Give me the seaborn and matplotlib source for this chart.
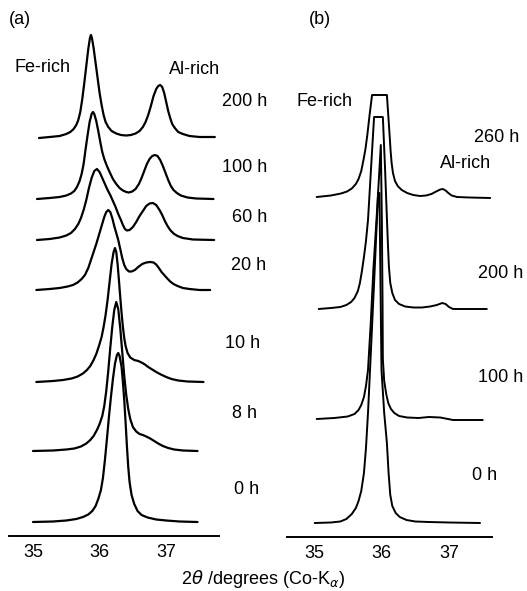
"""
plot.py
Profils XRD empilés (Fe-rich / Al-rich) — deux panneaux (a) et (b)
"""

import numpy as np
import pandas as pd
import matplotlib
matplotlib.use("Agg")
import matplotlib.pyplot as plt
from matplotlib.ticker import MultipleLocator
import seaborn as sns

# ---- données : (2theta, intensité au-dessus de la ligne de base)
A_200H = [(35.09, 0), (35.25, 1), (35.40, 2), (35.50, 4), (35.56, 6), (35.61, 9), (35.65, 13),
          (35.68, 18), (35.71, 26), (35.74, 39), (35.77, 55), (35.80, 72), (35.83, 89),
          (35.855, 100), (35.87, 103), (35.885, 100), (35.91, 90), (35.94, 75), (35.97, 60),
          (36.00, 45), (36.03, 33), (36.06, 23), (36.09, 16), (36.13, 11), (36.18, 7),
          (36.25, 4.5), (36.32, 3), (36.40, 2.5), (36.47, 3), (36.54, 4.5), (36.60, 7),
          (36.65, 11), (36.69, 16), (36.73, 23), (36.77, 32), (36.81, 42), (36.85, 49),
          (36.88, 52), (36.91, 53), (36.94, 51), (36.97, 45), (37.00, 36), (37.03, 27),
          (37.06, 20), (37.09, 14), (37.13, 10), (37.18, 6), (37.25, 4), (37.35, 2),
          (37.50, 1), (37.73, 1)]
A_100H = [(35.06, 0), (35.25, 1), (35.40, 2), (35.50, 3.5), (35.57, 5.5), (35.62, 8),
          (35.66, 12), (35.70, 18), (35.73, 25), (35.76, 35), (35.79, 50), (35.82, 64),
          (35.85, 77), (35.88, 85), (35.90, 87), (35.92, 85), (35.95, 78), (35.98, 68),
          (36.01, 57), (36.04, 47), (36.07, 40), (36.11, 33), (36.15, 27), (36.20, 20),
          (36.25, 15), (36.30, 11), (36.35, 8.5), (36.40, 7), (36.44, 6.5), (36.49, 7.5),
          (36.54, 10), (36.59, 15), (36.63, 21), (36.67, 28), (36.71, 35), (36.75, 40),
          (36.79, 43), (36.83, 44), (36.87, 43), (36.91, 39), (36.95, 33), (36.99, 26),
          (37.03, 19), (37.07, 13), (37.11, 9), (37.16, 6), (37.22, 3.5), (37.32, 1.5),
          (37.45, 0.5), (37.71, 0)]
A_60H = [(35.06, 0), (35.25, 1), (35.40, 2.5), (35.50, 4.5), (35.57, 7), (35.63, 11),
         (35.68, 16), (35.72, 22), (35.76, 30), (35.80, 40), (35.84, 52), (35.88, 62),
         (35.92, 69), (35.96, 71), (36.00, 68), (36.04, 62), (36.08, 56), (36.12, 50),
         (36.16, 45), (36.20, 39), (36.24, 33), (36.28, 26), (36.32, 20), (36.35, 15),
         (36.38, 11), (36.41, 9.5), (36.45, 10), (36.50, 13), (36.55, 18), (36.60, 24),
         (36.65, 29), (36.70, 34), (36.75, 36.5), (36.80, 37), (36.85, 35), (36.90, 30),
         (36.94, 25), (36.98, 19), (37.02, 14), (37.06, 10), (37.11, 6.5), (37.17, 4),
         (37.25, 2), (37.40, 0.5), (37.72, 0)]
A_20H = [(35.05, 0), (35.25, 1), (35.40, 2), (35.52, 3.5), (35.60, 5), (35.67, 7.5),
         (35.73, 11), (35.78, 15), (35.83, 22), (35.87, 30), (35.91, 38), (35.95, 46),
         (35.99, 55), (36.03, 64), (36.07, 73), (36.10, 78), (36.13, 80), (36.16, 78),
         (36.19, 72), (36.22, 64), (36.25, 57), (36.28, 50), (36.31, 41), (36.34, 32),
         (36.37, 25), (36.40, 21), (36.44, 18.5), (36.48, 18.5), (36.53, 20), (36.58, 23),
         (36.64, 26), (36.70, 27.5), (36.76, 28), (36.81, 27.5), (36.85, 25.5), (36.89, 22),
         (36.93, 18), (36.97, 15), (37.01, 12), (37.06, 8.5), (37.11, 6), (37.17, 4),
         (37.25, 2), (37.35, 1), (37.50, 0), (37.66, 0)]
A_10H = [(35.05, 0), (35.30, 1), (35.45, 2), (35.58, 3.5), (35.67, 5.5), (35.75, 8.5),
         (35.81, 12), (35.86, 16), (35.91, 22), (35.95, 28), (35.99, 36), (36.03, 45),
         (36.06, 55), (36.09, 67), (36.12, 82), (36.15, 100), (36.18, 118), (36.21, 130),
         (36.23, 134), (36.25, 130), (36.27, 118), (36.29, 102), (36.31, 85), (36.33, 69),
         (36.35, 55), (36.37, 44), (36.39, 36), (36.42, 29), (36.46, 24.5), (36.52, 22),
         (36.58, 21), (36.63, 19.5), (36.68, 17.5), (36.73, 15), (36.79, 12.5), (36.85, 10),
         (36.92, 7.5), (37.00, 5), (37.08, 3), (37.18, 1.5), (37.32, 0.5), (37.56, 0)]
A_8H = [(35.00, 0), (35.30, 0.5), (35.50, 1.5), (35.62, 2.5), (35.72, 4.5), (35.80, 7.5),
        (35.86, 11), (35.91, 15), (35.96, 21), (36.00, 27), (36.04, 35), (36.07, 45),
        (36.10, 60), (36.13, 80), (36.16, 103), (36.19, 124), (36.22, 141), (36.25, 149),
        (36.28, 142), (36.31, 123), (36.34, 99), (36.37, 75), (36.40, 56), (36.43, 42),
        (36.46, 32), (36.50, 24), (36.55, 19.5), (36.60, 17), (36.65, 16), (36.70, 14.5),
        (36.76, 12.5), (36.82, 10), (36.88, 7.5), (36.95, 5), (37.03, 3), (37.12, 1.5),
        (37.25, 0.5), (37.47, 0)]
A_0H = [(35.00, 0), (35.30, 0.5), (35.50, 1.5), (35.65, 3), (35.75, 5), (35.83, 7.5),
        (35.89, 11), (35.94, 16), (35.98, 23), (36.02, 32), (36.05, 44), (36.08, 62),
        (36.11, 83), (36.14, 105), (36.17, 125), (36.20, 143), (36.23, 158), (36.26, 167),
        (36.28, 169), (36.30, 166), (36.33, 155), (36.35, 140), (36.37, 122), (36.39, 100),
        (36.41, 76), (36.43, 55), (36.45, 40), (36.48, 27), (36.52, 18), (36.57, 11),
        (36.63, 7), (36.72, 4.5), (36.85, 2.5), (37.00, 1.5), (37.20, 0.5), (37.47, 0)]

B_260H = [(35.04, 0), (35.25, 1.5), (35.40, 3.5), (35.49, 5.5), (35.56, 8.5), (35.62, 13),
          (35.66, 18), (35.70, 26), (35.73, 36), (35.76, 47), (35.79, 62), (35.82, 80),
          (35.86, 102), (36.08, 102), (36.10, 82), (36.12, 62), (36.135, 46), (36.15, 34),
          (36.17, 24), (36.20, 16), (36.24, 11), (36.30, 7), (36.38, 4), (36.47, 2),
          (36.57, 1), (36.66, 1.5), (36.74, 3), (36.81, 5.5), (36.87, 7.5), (36.91, 8),
          (36.95, 6.5), (36.99, 4), (37.04, 1.5), (37.12, 0), (37.30, -0.5), (37.61, -1)]
B_200H = [(35.07, 0), (35.25, 1), (35.39, 2), (35.48, 4), (35.55, 7), (35.60, 11),
          (35.65, 18), (35.68, 26), (35.71, 38), (35.74, 52), (35.77, 68), (35.80, 89),
          (35.84, 135), (35.89, 192), (36.02, 192), (36.05, 145), (36.075, 100), (36.095, 65),
          (36.11, 42), (36.13, 26), (36.16, 16), (36.20, 9), (36.26, 5), (36.35, 2.5),
          (36.47, 1.5), (36.60, 1.5), (36.72, 2.5), (36.82, 4), (36.90, 6), (36.95, 5),
          (37.00, 2), (37.06, 0), (37.25, 0), (37.56, 0)]
B_100H = [(35.04, 0), (35.30, 1), (35.50, 2.5), (35.60, 5), (35.66, 9), (35.70, 14),
          (35.74, 22), (35.77, 33), (35.80, 49), (35.84, 95), (35.88, 150), (35.94, 215),
          (35.99, 274), (36.005, 200), (36.015, 120), (36.02, 60), (36.04, 38), (36.07, 25),
          (36.10, 16), (36.14, 10), (36.19, 6), (36.26, 3), (36.38, 1.5), (36.55, 1),
          (36.70, 2), (36.87, 1.5), (37.06, -1), (37.25, -1), (37.50, -1)]
B_0H = [(35.01, 0), (35.25, 0.5), (35.39, 1.5), (35.48, 4), (35.56, 9), (35.62, 15),
        (35.66, 22), (35.70, 32), (35.74, 50), (35.77, 75), (35.80, 110), (35.83, 153),
        (35.89, 240), (35.95, 330), (35.97, 330), (35.985, 240), (36.00, 153), (36.04, 110),
        (36.08, 80), (36.105, 50), (36.13, 28), (36.16, 17), (36.21, 10), (36.27, 6),
        (36.37, 3), (36.50, 1.5), (36.70, 1), (37.00, 0.5), (37.46, 0)]

CURVES_A  = [A_200H, A_100H, A_60H, A_20H, A_10H, A_8H, A_0H]
LABELS_A  = ["200 h", "100 h", "60 h", "20 h", "10 h", "8 h", "0 h"]
OFFSETS_A = [398, 337, 296, 246, 154, 85, 14]

CURVES_B  = [B_260H, B_200H, B_100H, B_0H]
LABELS_B  = ["260 h", "200 h", "100 h", "0 h"]
OFFSETS_B = [340, 228, 118, 14]

XTICKS = [35, 36, 37]

W, H = 527, 591
FONT = ["Liberation Sans", "DejaVu Sans"]


def to_frame(curves, labels, offsets):
    rows = []
    for pts, lab, off in zip(curves, labels, offsets):
        for x, h in pts:
            rows.append({"two_theta": x, "intensity": h + off, "time": lab})
    return pd.DataFrame(rows)


def style_axis(ax, xlim, ylim):
    ax.set_xlim(*xlim)
    ax.set_ylim(*ylim)
    for s in ("left", "right", "top"):
        ax.spines[s].set_visible(False)
    ax.spines["bottom"].set_linewidth(1.4)
    ax.spines["bottom"].set_color("black")
    ax.set_yticks([])
    ax.set_xticks(XTICKS)
    ax.set_xticklabels([str(t) for t in XTICKS], fontsize=13, family=FONT)
    ax.xaxis.set_minor_locator(MultipleLocator(0.2))
    ax.tick_params(axis="x", which="major", direction="in", length=5, width=1.3,
                   pad=6, colors="black")
    ax.tick_params(axis="x", which="minor", direction="in", length=2, width=0.8,
                   colors="black")
    ax.set_xlabel("")
    ax.set_ylabel("")
    ax.patch.set_alpha(0)


def main():
    sns.set_style("white")
    plt.rcParams["font.family"] = FONT
    plt.rcParams["mathtext.fontset"] = "dejavusans"
    plt.rcParams["text.color"] = "black"
    plt.rcParams["xtick.color"] = "black"

    fig = plt.figure(figsize=(W / 100, H / 100), dpi=100)
    ax_a = fig.add_axes([9 / W, (H - 536) / H, 210 / W, 536 / H])
    ax_b = fig.add_axes([287 / W, (H - 537) / H, 205 / W, 537 / H])

    df_a = to_frame(CURVES_A, LABELS_A, OFFSETS_A)
    df_b = to_frame(CURVES_B, LABELS_B, OFFSETS_B)

    for lab in LABELS_A:
        sns.lineplot(data=df_a[df_a["time"] == lab], x="two_theta", y="intensity",
                     sort=False, estimator=None, color="black", lw=1.6, ax=ax_a)
    for lab in LABELS_B:
        sns.lineplot(data=df_b[df_b["time"] == lab], x="two_theta", y="intensity",
                     sort=False, estimator=None, color="black", lw=1.4, ax=ax_b)

    style_axis(ax_a, (35 - 24 / 66.6, 35 + 186 / 66.6), (0, 536))
    style_axis(ax_b, (35 - 27 / 67.5, 35 + 178 / 67.5), (0, 537))

    kw = dict(fontsize=13, ha="center", va="center", clip_on=False, color="black")
    ax_a.text(34.80, 516, "(a)", **kw)
    ax_a.text(35.14, 469, "Fe-rich", **kw)
    ax_a.text(37.43, 466, "Al-rich", **kw)
    label_pos_a = [(38.18, 434), (38.18, 369), (38.26, 318), (38.24, 270),
                   (38.14, 193), (38.17, 123), (38.20, 46)]
    for lab, (x, y) in zip(LABELS_A, label_pos_a):
        ax_a.text(x, y, lab, **kw)

    ax_b.text(35.09, 517, "(b)", **kw)
    ax_b.text(35.16, 435, "Fe-rich", **kw)
    ax_b.text(37.24, 374, "Al-rich", **kw)
    label_pos_b = [(37.71, 399), (37.76, 264), (37.76, 160), (37.52, 62)]
    for lab, (x, y) in zip(LABELS_B, label_pos_b):
        ax_b.text(x, y, lab, **kw)

    fig.text(263 / W, 1 - 579 / H, r"2$\theta$ /degrees (Co-K$_{\alpha}$)",
             fontsize=13, ha="center", va="center", color="black")

    fig.savefig("out.png", dpi=100)
    plt.close(fig)


if __name__ == "__main__":
    main()
